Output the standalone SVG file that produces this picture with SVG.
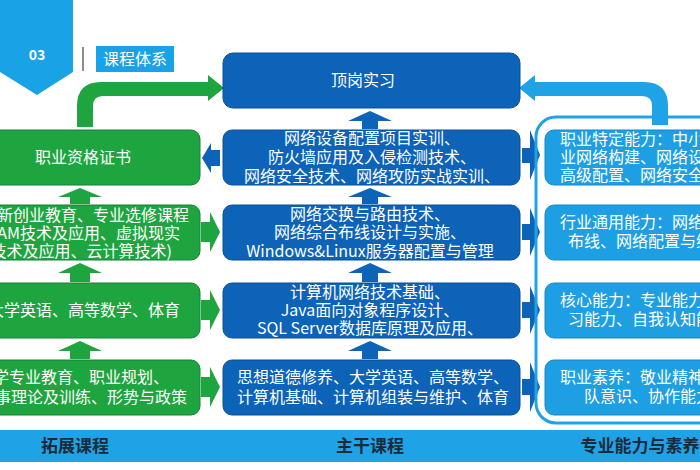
<svg xmlns="http://www.w3.org/2000/svg" width="700" height="470" viewBox="0 0 700 470">
<style>
text{font-family:"Noto Sans CJK SC","Liberation Sans",sans-serif;font-size:16px;fill:#fff}
.g{fill:#1ea53f;stroke:#15803a;stroke-width:1}
.b{fill:#0d63b8;stroke:#0a4f96;stroke-width:1}
.lb{fill:#1f9fe3;stroke:#1488cc;stroke-width:1}
.ga{fill:#1ea53f}
.ba{fill:#0d63b8}
.c{text-anchor:middle}
.bt{font-weight:bold;font-size:17px;fill:#1a2a3a}
</style>
<rect width="700" height="470" fill="#fff"/>
<g id="header">
<polygon points="0,0 73,0 73,72 37,95 0,72" fill="#1aa2e6"/>
<text x="37" y="60" class="c" style="font-weight:bold;font-size:14px">03</text>
<line x1="83" y1="47" x2="83" y2="71" stroke="#666" stroke-width="1.5"/>
<rect x="96" y="46" width="78" height="26" fill="#1aa2e6"/>
<text x="135" y="65" class="c">课程体系</text>
</g>
<g id="connectors">
<path class="ga" d="M77,127 V106 Q77,82 101,82 H208 V75 L224,88 L208,101 V96 H103 Q93,96 93,106 V127 Z"/>
<path d="M668,125 V106 Q668,82 644,82 H535 V75 L519,88 L535,101 V96 H642 Q652,96 652,106 V125 Z" fill="#1fa3e6"/>
<polygon class="ga" points="70,204 70,197 58,197 80,188 102,197 90,197 90,204"/>
<polygon class="ga" points="70,282 70,273 58,273 80,263 102,273 90,273 90,282"/>
<polygon class="ga" points="70,359 70,351 58,351 80,341 102,351 90,351 90,359"/>
<polygon class="ba" points="362,129 362,121 348,121 370,111 392,121 378,121 378,129"/>
<polygon class="ba" points="362,204 362,197 348,197 370,188 392,197 378,197 378,204"/>
<polygon class="ba" points="362,282 362,273 348,273 370,263 392,273 378,273 378,282"/>
<polygon class="ba" points="362,359 362,351 348,351 370,341 392,351 378,351 378,359"/>
<polygon class="ba" points="220,150 211,150 211,143 202,158 211,173 211,166 220,166"/>
<polygon class="ga" points="201,222 210,222 210,212 220,232 210,252 210,242 201,242"/>
<polygon class="ga" points="201,300 210,300 210,290 220,310 210,330 210,320 201,320"/>
<polygon class="ga" points="201,377 210,377 210,367 220,387 210,407 210,397 201,397"/>
<polygon class="ba" points="522,148 530,148 530,130 540,155 530,180 530,163 522,163"/>
<polygon class="ba" points="522,224 530,224 530,208 540,232 530,256 530,240 522,240"/>
<polygon class="ba" points="522,302 530,302 530,286 540,310 530,334 530,318 522,318"/>
<polygon class="ba" points="522,379 530,379 530,362 540,387 530,412 530,395 522,395"/>
</g>
<g id="top"><rect class="b" x="223" y="53" width="297" height="55" rx="10"/><text x="363" y="86" class="c">顶岗实习</text></g>
<g id="g1"><rect class="g" x="-10" y="130" width="210" height="55" rx="9"/><text x="83" y="163" class="c">职业资格证书</text></g>
<g id="g2"><rect class="g" x="-10" y="205" width="210" height="55" rx="9"/>
<text x="189" y="221" text-anchor="end">新创业教育、专业选修课程</text>
<text x="180" y="239" text-anchor="end">AM技术及应用、虚拟现实</text>
<text x="172" y="257" text-anchor="end">技术及应用、云计算技术)</text></g>
<g id="g3"><rect class="g" x="-10" y="283" width="210" height="55" rx="9"/><text x="180" y="316" text-anchor="end">大学英语、高等数学、体育</text></g>
<g id="g4"><rect class="g" x="-10" y="360" width="210" height="55" rx="9"/>
<text x="169" y="383" text-anchor="end">入学专业教育、职业规划、</text>
<text x="187" y="403" text-anchor="end">事理论及训练、形势与政策</text></g>
<g id="b1"><rect class="b" x="223" y="130" width="297" height="55" rx="9"/>
<text x="372" y="144" class="c">网络设备配置项目实训、</text>
<text x="372" y="163" class="c">防火墙应用及入侵检测技术、</text>
<text x="372" y="182" class="c">网络安全技术、网络攻防实战实训、</text></g>
<g id="b2"><rect class="b" x="223" y="205" width="297" height="55" rx="9"/>
<text x="370" y="220" class="c">网络交换与路由技术、</text>
<text x="370" y="238" class="c">网络综合布线设计与实施、</text>
<text x="370" y="257" class="c">Windows&amp;Linux服务器配置与管理</text></g>
<g id="b3"><rect class="b" x="223" y="283" width="297" height="55" rx="9"/>
<text x="370" y="298" class="c">计算机网络技术基础、</text>
<text x="370" y="316" class="c">Java面向对象程序设计、</text>
<text x="370" y="334" class="c">SQL Server数据库原理及应用、</text></g>
<g id="b4"><rect class="b" x="223" y="360" width="297" height="55" rx="9"/>
<text x="237" y="383">思想道德修养、大学英语、高等数学、</text>
<text x="237" y="403">计算机基础、计算机组装与维护、体育</text></g>
<g id="right">
<rect x="536" y="117" width="190" height="306" rx="20" fill="none" stroke="#1fa3e6" stroke-width="3"/>
<rect class="lb" x="545" y="130" width="170" height="55" rx="9"/>
<text x="560" y="145">职业特定能力：中小企</text><text x="560" y="163">业网络构建、网络设备</text><text x="560" y="181">高级配置、网络安全</text>
<rect class="lb" x="545" y="205" width="170" height="55" rx="9"/>
<text x="560" y="228">行业通用能力：网络综合</text><text x="568" y="247">布线、网络配置与维护</text>
<rect class="lb" x="545" y="283" width="170" height="55" rx="9"/>
<text x="560" y="306">核心能力：专业能力、学</text><text x="568" y="325">习能力、自我认知能力</text>
<rect class="lb" x="545" y="360" width="170" height="55" rx="9"/>
<text x="560" y="383">职业素养：敬业精神、团</text><text x="584" y="402">队意识、协作能力</text>
</g>
<g id="bottom">
<rect x="0" y="430" width="700" height="32" fill="#1fa3e6"/>
<text x="75" y="452" class="c bt">拓展课程</text>
<text x="370" y="452" class="c bt">主干课程</text>
<text x="640" y="452" class="c bt">专业能力与素养</text>
</g>
</svg>
